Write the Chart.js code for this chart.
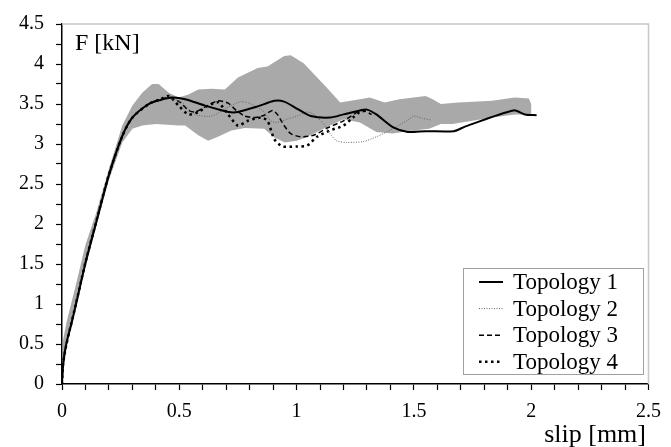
<!DOCTYPE html>
<html>
<head>
<meta charset="utf-8">
<script src="https://cdn.jsdelivr.net/npm/chart.js@4"></script>
<style>
  body { margin: 0; background: #fff; }
  #wrap { width: 671px; height: 447px; }
</style>
</head>
<body>
<div id="wrap"><canvas id="grafico" width="671" height="447"></canvas></div>
<script>
// curvas força x deslizamento
const nomes = ['Topology 1', 'Topology 2', 'Topology 3', 'Topology 4'];

const slip1 = [0, 0.005, 0.018, 0.04, 0.06, 0.1, 0.145, 0.2, 0.257, 0.3, 0.37, 0.42, 0.468, 0.525, 0.61, 0.71, 0.75, 0.834, 0.905, 0.947, 1.003, 1.06, 1.143, 1.2, 1.27, 1.3, 1.34, 1.41, 1.474, 1.55, 1.67, 1.72, 1.924, 1.973, 2.023];
const force1 = [0, 0.25, 0.5, 0.75, 1.0, 1.51, 2.01, 2.61, 3.1, 3.33, 3.5, 3.55, 3.58, 3.56, 3.48, 3.4, 3.4, 3.47, 3.54, 3.53, 3.44, 3.35, 3.33, 3.37, 3.42, 3.43, 3.37, 3.21, 3.15, 3.16, 3.16, 3.22, 3.42, 3.37, 3.36];

const slip2 = [0, 0.005, 0.02, 0.06, 0.1, 0.145, 0.2, 0.257, 0.3, 0.37, 0.42, 0.46, 0.51, 0.567, 0.637, 0.708, 0.764, 0.806, 0.862, 0.89, 0.918, 0.96, 1.003, 1.045, 1.073, 1.116, 1.143, 1.17, 1.214, 1.284, 1.34, 1.41, 1.48, 1.5, 1.537, 1.573];
const force2 = [0, 0.27, 0.52, 1.02, 1.53, 2.03, 2.62, 3.1, 3.34, 3.5, 3.55, 3.57, 3.52, 3.37, 3.35, 3.46, 3.53, 3.5, 3.4, 3.29, 3.27, 3.31, 3.35, 3.4, 3.37, 3.25, 3.13, 3.04, 3.02, 3.03, 3.09, 3.19, 3.31, 3.35, 3.32, 3.3];

const slip3 = [0, 0.005, 0.02, 0.06, 0.1, 0.145, 0.2, 0.257, 0.3, 0.37, 0.42, 0.46, 0.504, 0.539, 0.567, 0.609, 0.665, 0.708, 0.743, 0.778, 0.82, 0.862, 0.897, 0.918, 0.947, 0.975, 1.017, 1.073, 1.13, 1.2, 1.277, 1.32];
const force3 = [0, 0.26, 0.51, 1.01, 1.52, 2.02, 2.62, 3.1, 3.33, 3.5, 3.56, 3.58, 3.52, 3.42, 3.4, 3.46, 3.54, 3.51, 3.42, 3.35, 3.33, 3.36, 3.42, 3.37, 3.23, 3.13, 3.09, 3.11, 3.2, 3.29, 3.42, 3.37];

const slip4 = [0, 0.005, 0.02, 0.06, 0.1, 0.145, 0.2, 0.257, 0.3, 0.37, 0.42, 0.455, 0.497, 0.539, 0.581, 0.623, 0.665, 0.708, 0.75, 0.792, 0.848, 0.876, 0.905, 0.94, 1.003, 1.045, 1.087, 1.143, 1.2, 1.24, 1.27, 1.3];
const force4 = [0, 0.26, 0.51, 1.01, 1.52, 2.02, 2.62, 3.1, 3.33, 3.5, 3.56, 3.6, 3.48, 3.37, 3.4, 3.48, 3.52, 3.37, 3.23, 3.29, 3.33, 3.29, 3.06, 2.97, 2.97, 2.98, 3.09, 3.17, 3.23, 3.33, 3.4, 3.42];

// faixa cinza (envoltória dos ensaios)
const faixaSupSlip = [0, 0.004, 0.02, 0.06, 0.1, 0.145, 0.2, 0.257, 0.3, 0.342, 0.384, 0.412, 0.455, 0.497, 0.539, 0.581, 0.637, 0.694, 0.75, 0.834, 0.876, 0.947, 0.975, 1.03, 1.13, 1.186, 1.27, 1.312, 1.375, 1.439, 1.55, 1.58, 1.615, 1.69, 1.833, 1.93, 1.99, 2.0];
const faixaSupForce = [0, 0.54, 0.78, 1.25, 1.74, 2.13, 2.69, 3.23, 3.48, 3.64, 3.75, 3.75, 3.64, 3.58, 3.62, 3.68, 3.69, 3.68, 3.83, 3.95, 3.97, 4.1, 4.11, 4.01, 3.7, 3.52, 3.56, 3.58, 3.52, 3.56, 3.6, 3.56, 3.5, 3.52, 3.54, 3.58, 3.57, 3.5];
const faixaInfSlip = [0, 0.02, 0.06, 0.1, 0.145, 0.2, 0.257, 0.3, 0.342, 0.4, 0.497, 0.525, 0.581, 0.623, 0.665, 0.722, 0.78, 0.862, 0.905, 0.95, 1.0, 1.04, 1.087, 1.143, 1.2, 1.27, 1.34, 1.41, 1.495, 1.565, 1.615, 1.664, 1.75, 1.833, 1.93, 2.0];
const faixaInfForce = [0, 0.48, 0.98, 1.47, 1.96, 2.55, 3.02, 3.19, 3.23, 3.25, 3.23, 3.23, 3.11, 3.04, 3.09, 3.17, 3.2, 3.19, 3.08, 3.02, 3.04, 3.08, 3.15, 3.23, 3.31, 3.27, 3.15, 3.13, 3.17, 3.19, 3.25, 3.25, 3.29, 3.33, 3.37, 3.37];

const fonte = '"Liberation Serif", "Times New Roman", serif';

function pontos(xs, ys) {
  return xs.map((x, i) => ({ x: x, y: ys[i] }));
}

const faixa = pontos(faixaSupSlip, faixaSupForce)
  .concat(pontos(faixaInfSlip, faixaInfForce).reverse());

const estilos = [
  { borderColor: '#000', borderWidth: 2, borderDash: [] },
  { borderColor: '#666', borderWidth: 1, borderDash: [1, 1.5] },
  { borderColor: '#000', borderWidth: 1.5, borderDash: [5, 3] },
  { borderColor: '#000', borderWidth: 2.5, borderDash: [2.5, 3.5] }
];

const series = [[slip1, force1], [slip2, force2], [slip3, force3], [slip4, force4]];

const datasets = series.map((s, i) => ({
  label: nomes[i],
  data: pontos(s[0], s[1]),
  borderColor: estilos[i].borderColor,
  borderWidth: estilos[i].borderWidth,
  borderDash: estilos[i].borderDash,
  pointRadius: 0,
  tension: 0.25,
  fill: false,
  order: 0
}));

datasets.push({
  label: 'faixa',
  data: faixa,
  borderWidth: 0,
  borderColor: 'rgba(0,0,0,0)',
  backgroundColor: '#a9a9a9',
  pointRadius: 0,
  tension: 0,
  fill: 'shape',
  order: 5
});

function meioPasso(v) {
  return Math.abs(v * 2 - Math.round(v * 2)) < 1e-6;
}

// textos, moldura e legenda
const extras = {
  id: 'extras',
  afterDraw(chart) {
    const ctx = chart.ctx;
    const a = chart.chartArea;
    ctx.save();
    ctx.strokeStyle = '#c8c8c8';
    ctx.lineWidth = 1.5;
    ctx.beginPath();
    ctx.moveTo(a.left, a.top);
    ctx.lineTo(a.right, a.top);
    ctx.lineTo(a.right, a.bottom);
    ctx.stroke();

    ctx.fillStyle = '#000';
    ctx.font = '24px ' + fonte;
    ctx.textBaseline = 'alphabetic';
    ctx.textAlign = 'left';
    ctx.fillText('F [kN]', 75, 50);
    ctx.font = '26px ' + fonte;
    ctx.textAlign = 'right';
    ctx.fillText('slip [mm]', 646, 442);

    // legenda
    ctx.fillStyle = '#fff';
    ctx.fillRect(463.5, 268.5, 180, 106);
    ctx.strokeStyle = '#a0a0a0';
    ctx.lineWidth = 1;
    ctx.strokeRect(463.5, 268.5, 180, 106);
    ctx.font = '23px ' + fonte;
    ctx.textAlign = 'left';
    ctx.textBaseline = 'middle';
    nomes.forEach((n, i) => {
      const y = 282 + i * 26.6;
      ctx.strokeStyle = estilos[i].borderColor;
      ctx.lineWidth = estilos[i].borderWidth;
      ctx.setLineDash(estilos[i].borderDash);
      ctx.beginPath();
      ctx.moveTo(479, y);
      ctx.lineTo(503, y);
      ctx.stroke();
      ctx.setLineDash([]);
      ctx.fillStyle = '#000';
      ctx.fillText(n, 513, y + 1);
    });
    ctx.restore();
  }
};

new Chart(document.getElementById('grafico').getContext('2d'), {
  type: 'line',
  data: { datasets: datasets },
  options: {
    responsive: false,
    animation: false,
    layout: { padding: { top: 20, right: 16, left: 0, bottom: 0 } },
    plugins: {
      legend: { display: false },
      tooltip: { enabled: false }
    },
    scales: {
      x: {
        type: 'linear',
        min: 0,
        max: 2.5,
        afterFit: s => { s.height = 63; },
        grid: { drawOnChartArea: false, color: '#000', tickLength: 6, tickWidth: 1.2 },
        border: { color: '#000', width: 1.5 },
        ticks: {
          stepSize: 0.1,
          autoSkip: false,
          maxRotation: 0,
          padding: 10,
          color: '#000',
          font: { family: fonte, size: 20 },
          callback: v => meioPasso(v) ? String(Math.round(v * 2) / 2) : ''
        }
      },
      y: {
        type: 'linear',
        min: 0,
        max: 4.5,
        afterFit: s => { s.width = 62; },
        grid: { drawOnChartArea: false, color: '#000', tickLength: 6, tickWidth: 1.2 },
        border: { color: '#000', width: 1.5 },
        ticks: {
          stepSize: 0.25,
          autoSkip: false,
          padding: 12,
          color: '#000',
          font: { family: fonte, size: 20 },
          callback: v => meioPasso(v) ? String(Math.round(v * 2) / 2) : ''
        }
      }
    }
  },
  plugins: [extras]
});
</script>
</body>
</html>
